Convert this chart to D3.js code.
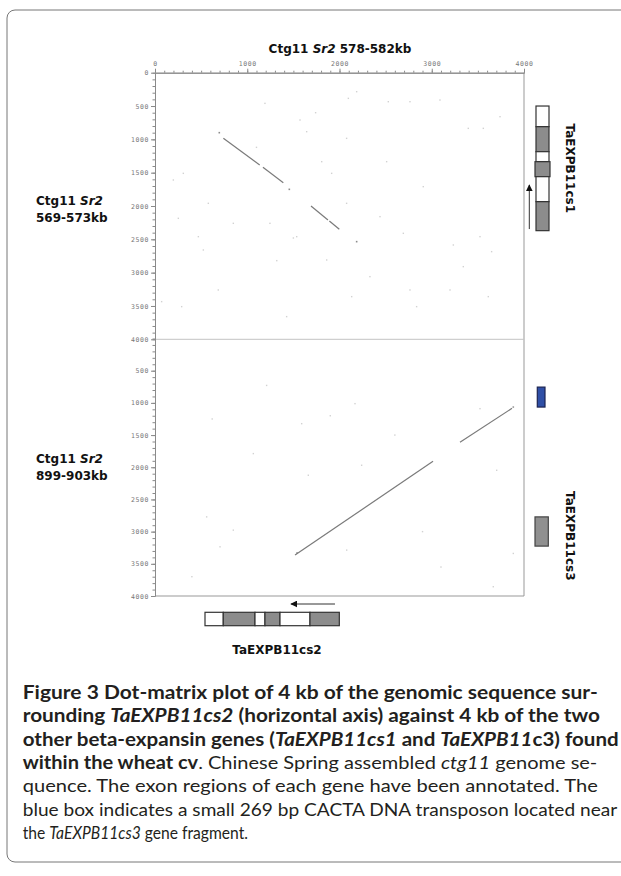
<!DOCTYPE html>
<html>
<head>
<meta charset="utf-8">
<script src="https://cdn.jsdelivr.net/npm/d3@7"></script>
<style>
  body { margin: 0; background: #fff; }
  svg { display: block; }
</style>
</head>
<body>
<svg id="fig"></svg>
<script>
var width = 621;
var height = 876;

// axis ticks (bp)
const majorX = [0, 1000, 2000, 3000, 4000];
const labelYTop = [0, 500, 1000, 1500, 2000, 2500, 3000, 3500, 4000];
const labelYBot = [500, 1000, 1500, 2000, 2500, 3000, 3500, 4000];
const minorStep = 100;

// diagonal hits, [x1, y1, x2, y2] in bp
const topSegments = [[741, 985, 1135, 1385], [1170, 1420, 1391, 1650], [1691, 2000, 1875, 2210], [1890, 2225, 1998, 2350]];
const botSegments = [[1518, 3364, 3014, 1907], [3306, 1612, 3870, 1085]];

// stronger isolated hits
const topStrong = [[697, 900], [1456, 1750], [2186, 2535]];
const botStrong = [[1540, 3330], [3884, 1065]];

// faint noise dots
const topNoise = [[1192, 460], [1572, 710], [1644, 885], [1741, 600], [2077, 985], [2186, 285], [2096, 385],
  [2529, 435], [2764, 435], [3089, 410], [3396, 835], [3559, 835], [3740, 660], [199, 1610], [307, 1510],
  [578, 1960], [253, 2185], [470, 2460], [524, 2660], [849, 2260], [1246, 2260], [1536, 2460], [1807, 1335],
  [1915, 1510], [1861, 2810], [2077, 1960], [2330, 3060], [2132, 3360], [1427, 3660], [686, 3260], [72, 3435],
  [289, 3510], [2764, 3260], [2836, 3510], [3198, 3260], [3613, 3360], [3523, 2460], [3649, 2685], [3234, 2585],
  [3342, 2910], [2692, 2410], [2511, 1335], [2908, 1710], [2439, 2160], [1100, 1120], [1500, 2480], [1320, 2820]];
const botNoise = [[2168, 1012], [1210, 729], [1590, 1323], [1066, 1788], [1662, 2124], [2240, 1969], [560, 2771],
  [849, 2977], [2078, 3287], [705, 3236], [3523, 1090], [3704, 2047], [3884, 3339], [3667, 3856], [620, 1250],
  [2600, 1500], [2900, 3000], [400, 3700], [1900, 1200], [3100, 3550]];

// gene annotations: [start, end, type] in bp
const geneCs1 = [[500, 810, "intron"], [810, 1185, "exon"], [1185, 1335, "intron"], [1335, 1560, "exon"], [1560, 1935, "intron"], [1935, 2370, "exon"]];
const geneCs2 = [[542, 740, "intron"], [740, 1084, "exon"], [1084, 1192, "intron"], [1192, 1355, "exon"], [1355, 1680, "intron"], [1680, 1998, "exon"]];
const geneCs3 = [[755, 1065, "transposon"], [2771, 3225, "exon"]];
const arrowCs1 = [2346, 1686];
const arrowCs2 = [1951, 1474];

// caption
const captionLines = [
  [["Figure 3 ", "b"], ["Dot-matrix plot of 4 kb of the genomic sequence sur-", "b"]],
  [["rounding ", "b"], ["TaEXPB11cs2", "bi"], [" (horizontal axis) against 4 kb of the two", "b"]],
  [["other beta-expansin genes (", "b"], ["TaEXPB11", "bi"], ["cs1", "bi"], [" and ", "b"], ["TaEXPB11", "bi"], ["c3) found", "b"]],
  [["within the wheat cv", "b"], [". Chinese Spring assembled ", "r"], ["ctg11", "i"], [" genome se-", "r"]],
  [["quence. The exon regions of each gene have been annotated. The", "r"]],
  [["blue box indicates a small 269 bp CACTA DNA transposon located near", "r"]],
  [["the ", "r"], ["TaEXPB11cs3", "i"], [" gene fragment.", "r"]]
];
const captionEnds = [598, 600, 619, 598, 598, 618, 248];

var svg = d3.select("#fig")
    .attr("width", width)
    .attr("height", height)
    .attr("viewBox", [0, 0, width, height]);

// outer frame
svg.append("rect")
    .attr("x", 7).attr("y", 10)
    .attr("width", 660).attr("height", 852)
    .attr("rx", 8)
    .attr("fill", "none")
    .attr("stroke", "#777")
    .attr("stroke-width", 1);

let x = d3.scaleLinear().domain([0, 4000]).range([155, 524]);
let yTop = d3.scaleLinear().domain([0, 4000]).range([72.7, 339.3]);
let yBot = d3.scaleLinear().domain([0, 4000]).range([338.5, 596]);

let plot = svg.append("g");

// frame lines
plot.append("line").attr("x1", 524).attr("x2", 524).attr("y1", yTop(0)).attr("y2", yBot(4000)).attr("stroke", "#999");
plot.append("line").attr("x1", x(0)).attr("x2", x(4000)).attr("y1", yBot(4000)).attr("y2", yBot(4000)).attr("stroke", "#999");
plot.append("line").attr("x1", x(0)).attr("x2", x(4000)).attr("y1", yTop(4000)).attr("y2", yTop(4000)).attr("stroke", "#c4c4c4");

function styleAxis(g) {
    g.selectAll("path.domain").attr("stroke", "#8a8a8a");
    g.selectAll(".tick line").attr("stroke", "#8a8a8a");
    g.selectAll(".tick text")
        .attr("fill", "#777")
        .attr("font-family", "DejaVu Sans Mono, monospace")
        .attr("font-size", 6.5)
        .attr("letter-spacing", 0.6);
}

// top axis
plot.append("g").attr("transform", `translate(0,${yTop(0)})`)
    .call(d3.axisTop(x).tickValues(d3.range(0, 4001, minorStep)).tickSize(2).tickSizeOuter(0).tickFormat(""))
    .call(styleAxis);
plot.append("g").attr("transform", `translate(0,${yTop(0)})`)
    .call(d3.axisTop(x).tickValues(majorX).tickSize(4).tickSizeOuter(0).tickPadding(2.5).tickFormat(d3.format("d")))
    .call(styleAxis);

// left axes
[[yTop, labelYTop], [yBot, labelYBot]].forEach(([ys, labels]) => {
    plot.append("g").attr("transform", `translate(${x(0)},0)`)
        .call(d3.axisLeft(ys).tickValues(d3.range(0, 4001, minorStep)).tickSize(2.5).tickSizeOuter(0).tickFormat(""))
        .call(styleAxis);
    plot.append("g").attr("transform", `translate(${x(0)},0)`)
        .call(d3.axisLeft(ys).tickValues(labels).tickSize(4).tickSizeOuter(0).tickPadding(2).tickFormat(d3.format("d")))
        .call(styleAxis);
});

// noise dots
function dots(data, ys, fill, s) {
    plot.append("g").selectAll("rect")
        .data(data)
        .join("rect")
        .attr("x", d => x(d[0]) - s / 2)
        .attr("y", d => ys(d[1]) - s / 2)
        .attr("width", s)
        .attr("height", s)
        .attr("fill", fill);
}
dots(topNoise, yTop, "#d2d2d2", 1.4);
dots(botNoise, yBot, "#d2d2d2", 1.4);
dots(topStrong, yTop, "#8c8c8c", 1.6);
dots(botStrong, yBot, "#9a9a9a", 1.6);

// diagonal segments
function segments(data, ys) {
    plot.append("g").selectAll("line")
        .data(data)
        .join("line")
        .attr("x1", d => x(d[0])).attr("y1", d => ys(d[1]))
        .attr("x2", d => x(d[2])).attr("y2", d => ys(d[3]))
        .attr("stroke", "#7a7a7a")
        .attr("stroke-width", 1.2);
}
segments(topSegments, yTop);
segments(botSegments, yBot);

// labels
let lab = svg.append("g")
    .attr("font-family", "DejaVu Sans, sans-serif")
    .attr("font-weight", "bold")
    .attr("font-size", 12)
    .attr("fill", "#111");

function ctgText(t, px, py, anchor) {
    let el = lab.append("text").attr("x", px).attr("y", py).attr("text-anchor", anchor || "start");
    el.append("tspan").text(t[0]);
    el.append("tspan").attr("font-style", "italic").text(t[1]);
    el.append("tspan").text(t[2]);
    return el;
}
ctgText(["Ctg11 ", "Sr2", " 578-582kb"], 340, 53, "middle");
ctgText(["Ctg11 ", "Sr2", ""], 36, 205);
lab.append("text").attr("x", 36).attr("y", 222).text("569-573kb");
ctgText(["Ctg11 ", "Sr2", ""], 36, 463);
lab.append("text").attr("x", 36).attr("y", 480).text("899-903kb");

lab.append("text")
    .attr("transform", `translate(566,${yTop(1435)}) rotate(90)`)
    .attr("text-anchor", "middle")
    .text("TaEXPB11cs1");
lab.append("text")
    .attr("transform", `translate(566,${yBot(3065)}) rotate(90)`)
    .attr("text-anchor", "middle")
    .text("TaEXPB11cs3");
lab.append("text")
    .attr("x", 277).attr("y", 654)
    .attr("text-anchor", "middle")
    .text("TaEXPB11cs2");

// gene structures
const fills = {intron: "#fff", exon: "#8c8c8c", transposon: "#2f4fa6"};
let genes = svg.append("g").attr("stroke-width", 1.2);

genes.selectAll(".cs1")
    .data(geneCs1)
    .join("rect")
    .attr("class", "cs1")
    .attr("x", (d, i) => i === 3 ? 535 : 536)
    .attr("width", (d, i) => i === 3 ? 15 : 13)
    .attr("y", d => yTop(d[0]))
    .attr("height", d => yTop(d[1]) - yTop(d[0]))
    .attr("fill", d => fills[d[2]])
    .attr("stroke", "#333");

genes.selectAll(".cs2")
    .data(geneCs2)
    .join("rect")
    .attr("class", "cs2")
    .attr("x", d => x(d[0]))
    .attr("width", d => x(d[1]) - x(d[0]))
    .attr("y", 612.3)
    .attr("height", 13.4)
    .attr("fill", d => fills[d[2]])
    .attr("stroke", "#333");

genes.selectAll(".cs3")
    .data(geneCs3)
    .join("rect")
    .attr("class", "cs3")
    .attr("x", d => d[2] === "transposon" ? 537.3 : 535)
    .attr("width", d => d[2] === "transposon" ? 7.7 : 13.3)
    .attr("y", d => yBot(d[0]))
    .attr("height", d => yBot(d[1]) - yBot(d[0]))
    .attr("fill", d => d[2] === "transposon" ? fills.transposon : "#909090")
    .attr("stroke", d => d[2] === "transposon" ? "#1c2452" : "#444");

// direction arrows
let defs = svg.append("defs");
defs.append("marker")
    .attr("id", "head")
    .attr("viewBox", "0 0 10 10")
    .attr("refX", 9).attr("refY", 5)
    .attr("markerWidth", 7).attr("markerHeight", 7)
    .attr("markerUnits", "userSpaceOnUse")
    .attr("orient", "auto")
    .append("path").attr("d", "M0,0L10,5L0,10z").attr("fill", "#111");

svg.append("line")
    .attr("x1", 529.3).attr("x2", 529.3)
    .attr("y1", yTop(arrowCs1[0])).attr("y2", yTop(arrowCs1[1]))
    .attr("stroke", "#333").attr("stroke-width", 1)
    .attr("marker-end", "url(#head)");
svg.append("line")
    .attr("x1", x(arrowCs2[0])).attr("x2", x(arrowCs2[1]))
    .attr("y1", 604).attr("y2", 604)
    .attr("stroke", "#333").attr("stroke-width", 1)
    .attr("marker-end", "url(#head)");

// caption
let cap = svg.append("g")
    .attr("font-family", "Lato, sans-serif")
    .attr("font-size", 18)
    .attr("fill", "#231f20");
let baseline = 699, lineGap = 23.35, capX = 22.7;
captionLines.forEach((line, i) => {
    let g = cap.append("g");
    let t = g.append("text").attr("x", 0).attr("y", 0).attr("xml:space", "preserve");
    line.forEach(([s, st]) => {
        t.append("tspan")
            .attr("font-weight", st.includes("b") ? 700 : 400)
            .attr("font-style", st.includes("i") ? "italic" : "normal")
            .text(s);
    });
    let w = t.node().getBBox().width;
    let sx = (captionEnds[i] - capX) / w;
    g.attr("transform", `translate(${capX},${baseline + i * lineGap}) scale(${sx},1)`);
});
</script>
</body>
</html>
